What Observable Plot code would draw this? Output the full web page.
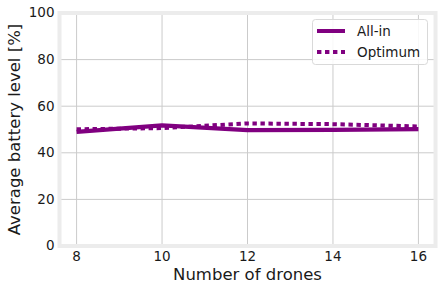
<!DOCTYPE html>
<html>
<head>
<meta charset="utf-8">
<script src="https://cdn.jsdelivr.net/npm/d3@7"></script>
<script src="https://cdn.jsdelivr.net/npm/@observablehq/plot@0.6"></script>
<style>
  html, body { margin: 0; padding: 0; background: #ffffff; }
  #chart svg { display: block; }
</style>
</head>
<body>
<div id="chart"></div>
<script>
// Number of drones on the x axis
const drones = [8, 10, 12, 14, 16];
// Average battery level [%] for each strategy
const allIn = [49.0, 51.8, 49.7, 49.8, 50.2];
const optimum = [50.1, 50.6, 52.6, 52.3, 51.3];

const seriesNames = ["All-in", "Optimum"];
const xTicks = [8, 10, 12, 14, 16];
const yTicks = [0, 20, 40, 60, 80, 100];
const xLabel = "Number of drones";
const yLabel = "Average battery level [%]";

const lineColor = "#800080";
const dashPattern = "4.4,3.6";

const rows = [
  ...drones.map((d, i) => ({drones: d, level: allIn[i], series: seriesNames[0]})),
  ...drones.map((d, i) => ({drones: d, level: optimum[i], series: seriesNames[1]}))
];

const chart = Plot.plot({
  width: 442,
  height: 292,
  marginLeft: 59,
  marginRight: 7,
  marginTop: 12.5,
  marginBottom: 46.5,
  style: {fontFamily: "DejaVu Sans", fontSize: "13.5px", color: "#1a1a1a", background: "#ffffff"},
  x: {domain: [7.6, 16.4], ticks: xTicks, tickSize: 0, tickPadding: 5, label: null},
  y: {domain: [0, 100], ticks: yTicks, tickSize: 0, tickPadding: 5, label: null},
  marks: [
    Plot.ruleX(xTicks, {stroke: "#cbcbcb", strokeWidth: 1}),
    Plot.ruleY(yTicks, {stroke: "#cbcbcb", strokeWidth: 1}),
    Plot.line(rows.filter(d => d.series === seriesNames[0]), {
      x: "drones", y: "level", stroke: lineColor, strokeWidth: 4.2, strokeLinecap: "butt"
    }),
    Plot.line(rows.filter(d => d.series === seriesNames[1]), {
      x: "drones", y: "level", stroke: lineColor, strokeWidth: 4, strokeLinecap: "butt",
      strokeDasharray: dashPattern
    }),
    Plot.frame({stroke: "#ececec", strokeWidth: 4}),
    Plot.text([xLabel], {
      frameAnchor: "bottom", lineAnchor: "middle", textAnchor: "middle",
      dy: 29, fontSize: 16.5, fill: "#1a1a1a"
    }),
    Plot.text([yLabel], {
      frameAnchor: "left", lineAnchor: "middle", textAnchor: "middle",
      dx: -45, rotate: -90, fontSize: 16.5, fill: "#1a1a1a"
    })
  ]
});

// Legend box in the upper right corner of the plot area
const svg = d3.select(chart);
const legend = svg.append("g")
  .attr("font-family", "DejaVu Sans").attr("font-size", 13.5).attr("text-anchor", "start");
legend.append("rect")
  .attr("x", 312.5).attr("y", 19.5).attr("width", 115).attr("height", 45)
  .attr("rx", 3).attr("fill", "#ffffff").attr("fill-opacity", 0.85)
  .attr("stroke", "#d9d9d9").attr("stroke-width", 1);
const entries = [
  {name: seriesNames[0], dash: null, y: 31},
  {name: seriesNames[1], dash: dashPattern, y: 52}
];
for (const e of entries) {
  const ln = legend.append("line")
    .attr("x1", 317).attr("x2", 345).attr("y1", e.y).attr("y2", e.y)
    .attr("stroke", lineColor).attr("stroke-width", 4);
  if (e.dash) ln.attr("stroke-dasharray", e.dash);
  legend.append("text")
    .attr("x", 357).attr("y", e.y).attr("dy", "0.36em")
    .attr("text-anchor", "start")
    .attr("fill", "#1a1a1a").text(e.name);
}

document.getElementById("chart").appendChild(chart);
</script>
</body>
</html>
